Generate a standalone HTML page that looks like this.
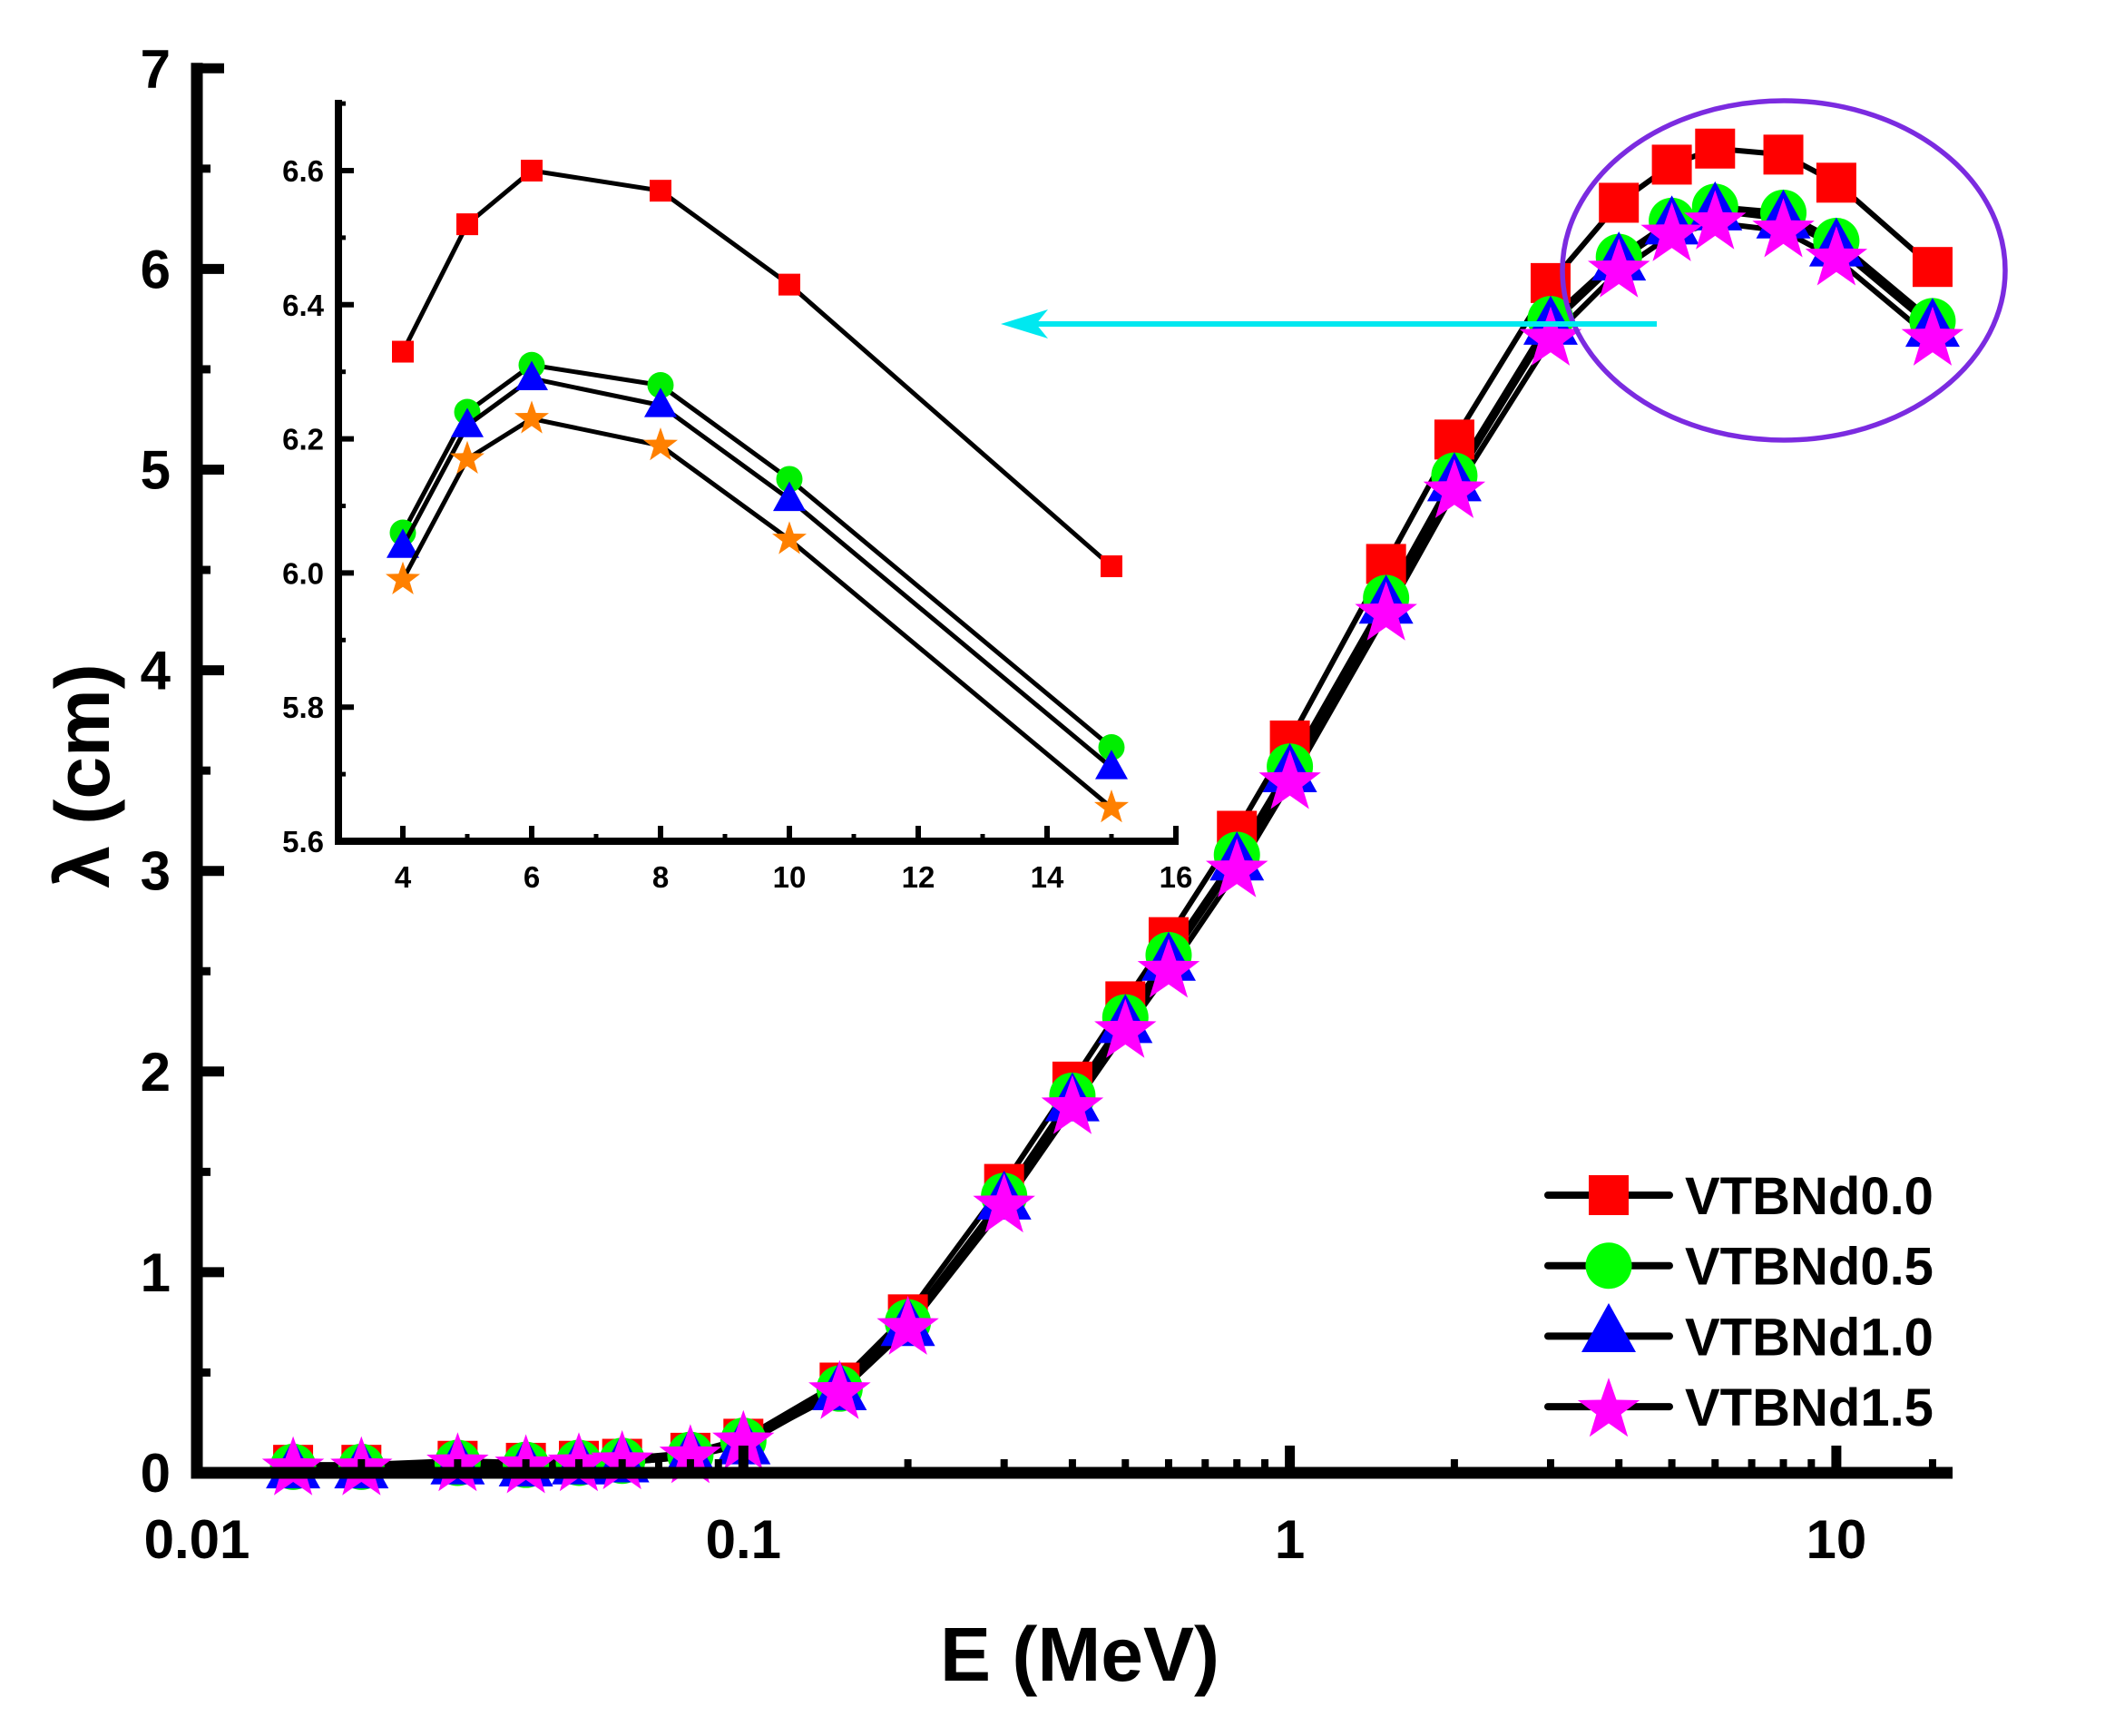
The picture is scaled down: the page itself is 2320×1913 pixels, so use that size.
<!DOCTYPE html>
<html><head><meta charset="utf-8"><style>
html,body{margin:0;padding:0;background:#fff}
svg text{font-family:"Liberation Sans",Arial,sans-serif;font-weight:bold;fill:#000}
</style></head><body>
<svg id="chart" width="2320" height="1908" viewBox="0 0 2320 1908" xmlns="http://www.w3.org/2000/svg">
<g id="main"></g>
<g id="inset"></g>
<ellipse cx="1966" cy="298" rx="244" ry="187" fill="none" stroke="#7b2be0" stroke-width="5.5"/>
<g>
<line x1="1826" y1="357" x2="1120" y2="357" stroke="#00e8f0" stroke-width="6"/>
<path d="M1103 357 L1155 341 L1142 357 L1155 373 Z" fill="#00e8f0"/>
</g>
<text x="1190" y="1852" font-size="84" text-anchor="middle">E (MeV)</text>
<text transform="translate(120,855) rotate(-90)" font-size="84" text-anchor="middle">λ (cm)</text>
<g id="legend"></g>
</svg>
<script>
const energies=[0.015,0.02,0.03,0.04,0.05,0.06,0.08,0.1,0.15,0.2,0.3,0.4,0.5,0.6,0.8,1,1.5,2,3,4,5,6,8,10,15];
const vtb00=[0.04,0.04,0.06,0.05,0.06,0.07,0.10,0.17,0.45,0.79,1.44,1.95,2.35,2.67,3.20,3.65,4.53,5.15,5.93,6.33,6.52,6.60,6.57,6.43,6.01];
const vtb05=[0.03,0.03,0.05,0.04,0.05,0.06,0.09,0.16,0.42,0.75,1.38,1.88,2.27,2.58,3.08,3.52,4.36,4.97,5.75,6.06,6.24,6.31,6.28,6.14,5.74];
const vtb10=[0.02,0.02,0.04,0.03,0.04,0.05,0.08,0.14,0.41,0.73,1.36,1.85,2.24,2.55,3.05,3.49,4.33,4.94,5.72,6.04,6.22,6.29,6.25,6.11,5.71];
const vtb15=[0.02,0.02,0.04,0.03,0.04,0.05,0.08,0.15,0.40,0.72,1.33,1.82,2.20,2.50,3.00,3.44,4.28,4.89,5.65,5.99,6.17,6.23,6.19,6.05,5.65];
const insetE=[4,5,6,8,10,15];
const in00=[6.33,6.52,6.60,6.57,6.43,6.01];
const in05=[6.06,6.24,6.31,6.28,6.14,5.74];
const in10=[6.04,6.22,6.29,6.25,6.11,5.71];
const in15=[5.99,6.17,6.23,6.19,6.05,5.65];
const yTicks=[0,1,2,3,4,5,6,7];
const xTicks=[0.01,0.1,1,10];
const xTickLabels=["0.01","0.1","1","10"];
const inXTicks=[4,6,8,10,12,14,16];
const inYTicks=[5.6,5.8,6.0,6.2,6.4,6.6];
const seriesNames=["VTBNd0.0","VTBNd0.5","VTBNd1.0","VTBNd1.5"];

const NS="http://www.w3.org/2000/svg";
function mk(parent,tag,attrs){const e=document.createElementNS(NS,tag);for(const k in attrs)e.setAttribute(k,attrs[k]);parent.appendChild(e);return e;}
const X0=217,DEC=602.3,Y0=1623,YU=221.1;
const mx=v=>X0+DEC*(Math.log10(v)+2);
const my=v=>Y0-YU*v;
const ix=v=>373+71*(v-3);
const iy=v=>927-739*(v-5.6);

function marker(g,type,x,y,s,color){
  let e;
  if(type==='sq') e=mk(g,'rect',{x:x-s/2,y:y-s/2,width:s,height:s,fill:color});
  else if(type==='ci') e=mk(g,'circle',{cx:x,cy:y,r:s/2,fill:color});
  else if(type==='tr'){const h=s*0.9;e=mk(g,'path',{d:`M${x} ${y-h*0.6}L${x+s/2} ${y+h*0.4}L${x-s/2} ${y+h*0.4}Z`,fill:color});}
  else {let d='';for(let i=0;i<10;i++){const r=i%2?s*0.2:s/2;const a=-Math.PI/2+i*Math.PI/5;d+=(i?'L':'M')+(x+r*Math.cos(a)).toFixed(1)+' '+(y+r*Math.sin(a)).toFixed(1);}e=mk(g,'path',{d:d+'Z',fill:color});}
  return e;
}
const main=document.getElementById('main');
const types=['sq','ci','tr','st'];
const mainColors=['#ff0000','#00ff00','#0000ff','#ff00ff'];
const mainSizes=[44,51,60,72];
const mainData=[vtb00,vtb05,vtb10,vtb15];
mainData.forEach((arr,si)=>{
  const g=mk(main,'g',{});
  
  
  const pl=mk(g,'polyline',{points:energies.map((e,i)=>mx(e)+','+my(arr[i])).join(' '),fill:'none',stroke:'#000','stroke-width':6,'stroke-linejoin':'round'});
  
  
});
mainData.forEach((arr,si)=>{
  const g=mk(main,'g',{});
  
  
  energies.forEach((e,i)=>{const m=marker(g,types[si],mx(e),my(arr[i]),mainSizes[si],mainColors[si]);
    
    });
});
const ax=mk(main,'path',{d:`M${X0} ${my(7)-6}L${X0} ${Y0}L2152 ${Y0}`,fill:'none',stroke:'#000','stroke-width':13});


yTicks.forEach(v=>{
  mk(main,'line',{x1:X0,y1:my(v),x2:X0+30,y2:my(v),stroke:'#000','stroke-width':11});
  if(v<7) mk(main,'line',{x1:X0,y1:my(v+0.5),x2:X0+15,y2:my(v+0.5),stroke:'#000','stroke-width':9});
  const t=mk(main,'text',{x:188,y:my(v)+21,'font-size':60,'text-anchor':'end'});t.textContent=v;
  
  
});
xTicks.forEach((v,i)=>{
  mk(main,'line',{x1:mx(v),y1:Y0,x2:mx(v),y2:Y0-30,stroke:'#000','stroke-width':11});
  if(v<10) for(let k=2;k<=9;k++){const xv=v*k;mk(main,'line',{x1:mx(xv),y1:Y0,x2:mx(xv),y2:Y0-15,stroke:'#000','stroke-width':8});}
  const t=mk(main,'text',{x:mx(v),y:1717,'font-size':60,'text-anchor':'middle'});t.textContent=xTickLabels[i];
  
  
});
mk(main,'line',{x1:mx(15),y1:Y0,x2:mx(15),y2:Y0-15,stroke:'#000','stroke-width':8});
const ins=document.getElementById('inset');
const inColors=['#ff0000','#00ee00','#0000ff','#ff8000'];
const inSizes=[24,29,36,40];
[in00,in05,in10,in15].forEach((arr,si)=>{
  const g=mk(ins,'g',{});
  
  
  mk(g,'polyline',{points:insetE.map((e,i)=>ix(e)+','+iy(arr[i])).join(' '),fill:'none',stroke:'#000','stroke-width':5});
  insetE.forEach((e,i)=>{const m=marker(g,types[si],ix(e),iy(arr[i]),inSizes[si],inColors[si]);
    
    });
});
const iax=mk(ins,'path',{d:`M373 110L373 927L1299 927`,fill:'none',stroke:'#000','stroke-width':8});


inYTicks.forEach(v=>{
  mk(ins,'line',{x1:373,y1:iy(v),x2:390,y2:iy(v),stroke:'#000','stroke-width':6});
  if(v<6.6) mk(ins,'line',{x1:373,y1:iy(v+0.1),x2:381,y2:iy(v+0.1),stroke:'#000','stroke-width':5});
  const t=mk(ins,'text',{x:357,y:iy(v)+12,'font-size':33,'text-anchor':'end'});t.textContent=v.toFixed(1);
  
  
});
mk(ins,'line',{x1:373,y1:iy(6.7),x2:381,y2:iy(6.7),stroke:'#000','stroke-width':5});
inXTicks.forEach(v=>{
  mk(ins,'line',{x1:ix(v),y1:927,x2:ix(v),y2:910,stroke:'#000','stroke-width':6});
  if(v<16) mk(ins,'line',{x1:ix(v+1),y1:927,x2:ix(v+1),y2:919,stroke:'#000','stroke-width':5});
  const t=mk(ins,'text',{x:ix(v),y:978,'font-size':33,'text-anchor':'middle'});t.textContent=v;
  
  
});
const lg=document.getElementById('legend');
seriesNames.forEach((n,i)=>{
  const y=1317+77.7*i;
  const g=mk(lg,'g',{});
  
  
  mk(g,'line',{x1:1706,y1:y,x2:1840,y2:y,stroke:'#000','stroke-width':8,'stroke-linecap':'round'});
  marker(g,types[i],1773,types[i]==='tr'?y-4:(types[i]==='st'?y+4:y),mainSizes[i],mainColors[i]);
  const t=mk(g,'text',{x:1857,y:y+21,'font-size':58});t.textContent=n;
});
</script>
</body></html>
